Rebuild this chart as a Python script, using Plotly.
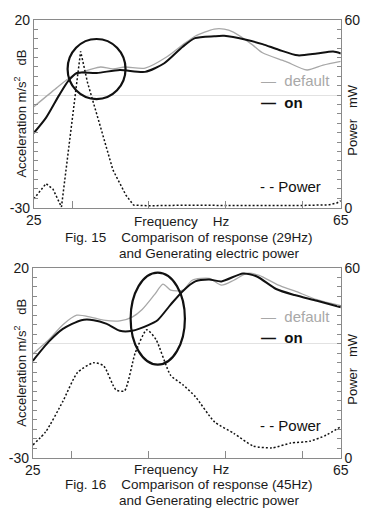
import plotly.graph_objects as go

W, H = 366, 518

# ---------------- Data: Fig. 15 ----------------
f15_on_freq = [25, 26.6, 28.3, 29.5, 30.6, 33.2, 36.2, 39.5, 42, 44.4, 46, 48.5, 49.8, 52.8, 54.8, 56.9, 59.4, 61.9, 64, 65]
f15_on_db = [-10.1, -6, 0, 3.8, 5.9, 5.9, 6.7, 6.2, 8.5, 12.9, 15.2, 15.7, 15.8, 14.7, 13.6, 12.1, 10.6, 11.1, 11.6, 11.1]
f15_def_freq = [25, 27.9, 30, 32.5, 33.7, 35.3, 36.9, 39.5, 42.4, 44.4, 46, 48.5, 49.8, 51, 53.5, 54.8, 57.8, 60.6, 62.7, 65]
f15_def_db = [-3.1, 1.8, 5.1, 6.9, 7.5, 7.0, 7.5, 7.2, 10.3, 13.4, 15.7, 17.6, 17.6, 16.8, 13.4, 11.3, 9.0, 6.7, 8.0, 9.0]
f15_pow_freq = [25, 26.6, 27.5, 28.6, 31.1, 32, 33.7, 35.3, 37, 38, 40, 45, 50, 55, 60, 63.5, 64.5, 65]
f15_pow_mw = [2.8, 7.7, 5.9, 0.2, 50, 40, 25.7, 12.1, 4, 0.8, 0.6, 0.8, 0.7, 0.6, 0.7, 0.9, 1.5, 2.2]

# ---------------- Data: Fig. 16 ----------------
f16_on_freq = [25, 27.1, 28.9, 31.3, 32.9, 34.6, 36.3, 37.9, 40, 41.2, 42.9, 44.5, 46.1, 47.9, 49.5, 52.3, 54.1, 56.6, 59, 61.9, 65]
f16_on_db = [-4.5, 0.6, 3.9, 6.2, 6.2, 5.2, 3.4, 3.4, 4.9, 6.2, 10.3, 13.9, 16.4, 16.9, 16.4, 18.5, 17.7, 14.4, 12.8, 11.3, 9.6]
f16_def_freq = [25, 27.1, 28.9, 30.7, 32.5, 34.2, 36.3, 37.9, 39.2, 40.8, 41.9, 42.9, 44.5, 45.7, 47.9, 49.5, 51.1, 52.8, 54.4, 56.9, 59, 61.9, 65]
f16_def_db = [-2.7, 1.1, 5.0, 7.5, 7.0, 6.2, 6.0, 7.0, 9.0, 12.9, 15.7, 14.1, 14.1, 16.7, 17.2, 15.4, 16.7, 18.5, 18.0, 15.4, 13.9, 11.6, 10.0]
f16_pow_freq = [25, 26.7, 28.9, 30.8, 32.9, 34.2, 35.8, 36.9, 38.3, 39.8, 41, 42.9, 44.5, 46.1, 48.6, 51.1, 53.6, 56.1, 58.5, 61, 63.1, 65]
f16_pow_mw = [4, 8.3, 17.8, 26.9, 30, 29, 21.4, 21.1, 33.1, 40.4, 37.3, 26, 23, 19.3, 11.3, 7.7, 3.7, 3.1, 4.6, 5.2, 7.1, 9.8]

x_labels = [25, 65]
x_long_ticks = [30, 40, 50, 60]
x_short_ticks = [32, 34, 36, 38, 42, 44, 46, 48, 52, 54, 56, 58, 62, 64]
db_labels = [-30, 20]
mw_labels = [0, 60]

FONT = "Liberation Sans, Arial, sans-serif"
AX = "#8a8a8a"
GREY = "#a8a8a8"
TXT = "#1a1a1a"
DOT = "2px,2px"


def px(x):
    return x / W


def py(y):
    return 1 - y / H


fig = go.Figure()

# top panel
fig.add_trace(go.Scatter(x=f15_def_freq, y=f15_def_db, mode="lines", line=dict(color=GREY, width=1.3, shape="spline", smoothing=0.7), xaxis="x", yaxis="y"))
fig.add_trace(go.Scatter(x=f15_on_freq, y=f15_on_db, mode="lines", line=dict(color="#111", width=2, shape="spline", smoothing=0.7), xaxis="x", yaxis="y"))
fig.add_trace(go.Scatter(x=f15_pow_freq, y=f15_pow_mw, mode="lines", line=dict(color="#111", width=1.5, dash=DOT), xaxis="x", yaxis="y2"))
# bottom panel
fig.add_trace(go.Scatter(x=f16_def_freq, y=f16_def_db, mode="lines", line=dict(color=GREY, width=1.3, shape="spline", smoothing=0.7), xaxis="x2", yaxis="y3"))
fig.add_trace(go.Scatter(x=f16_on_freq, y=f16_on_db, mode="lines", line=dict(color="#111", width=2, shape="spline", smoothing=0.7), xaxis="x2", yaxis="y3"))
fig.add_trace(go.Scatter(x=f16_pow_freq, y=f16_pow_mw, mode="lines", line=dict(color="#111", width=1.5, dash=DOT, shape="spline", smoothing=0.6), xaxis="x2", yaxis="y4"))


def xax(domain, anchor):
    return dict(domain=domain, range=[25, 65], anchor=anchor, showgrid=False, zeroline=False,
                showline=True, linecolor=AX, linewidth=1, mirror=True,
                tickmode="array", tickvals=x_labels, ticktext=[str(v) for v in x_labels],
                ticks="inside", ticklen=3, tickcolor=AX,
                tickfont=dict(size=14, color=TXT, family=FONT),
                minor=dict(tickmode="array", tickvals=x_long_ticks, ticks="inside", ticklen=7, tickcolor=AX))


def xshort(overlay, anchor):
    return dict(overlaying=overlay, anchor=anchor, range=[25, 65], showgrid=False, zeroline=False,
                showline=False, showticklabels=False, tickmode="array", tickvals=x_short_ticks,
                ticks="inside", ticklen=3, tickcolor=AX)


def ydb(domain, anchor):
    return dict(domain=domain, range=[-30, 20], anchor=anchor, showgrid=False,
                zeroline=True, zerolinecolor="#e2e2e2", zerolinewidth=1,
                showline=True, linecolor=AX, linewidth=1,
                tickmode="array", tickvals=db_labels, ticktext=[str(v) for v in db_labels],
                ticks="inside", ticklen=4, tickcolor=AX,
                tickfont=dict(size=14, color=TXT, family=FONT),
                minor=dict(tickmode="linear", tick0=-30, dtick=2.5, ticks="inside", ticklen=4, tickcolor=AX))


def ymw(overlay, anchor):
    return dict(range=[0, 60], overlaying=overlay, side="right", anchor=anchor, showgrid=False,
                zeroline=False, showline=True, linecolor=AX, linewidth=1,
                tickmode="array", tickvals=mw_labels, ticktext=[str(v) for v in mw_labels],
                ticks="inside", ticklen=4, tickcolor=AX,
                tickfont=dict(size=14, color=TXT, family=FONT),
                minor=dict(tickmode="linear", tick0=0, dtick=3, ticks="inside", ticklen=4, tickcolor=AX))


top_y = [py(206), py(12.5)]
bot_y = [py(464), py(268)]

fig.update_layout(
    width=W, height=H, margin=dict(l=0, r=0, t=0, b=0),
    paper_bgcolor="white", plot_bgcolor="white", showlegend=False,
    font=dict(family=FONT, color=TXT),
    xaxis=xax([px(27), px(348)], "y"),
    yaxis=ydb(top_y, "x"),
    yaxis2=ymw("y", "x"),
    xaxis2=xax([px(26), px(348)], "y3"),
    yaxis3=ydb(bot_y, "x2"),
    yaxis4=ymw("y3", "x2"),
    xaxis3=xshort("x", "y"),
    xaxis4=xshort("x2", "y3"),
)

# ellipses
fig.add_shape(type="circle", xref="x", yref="y", x0=29.4, x1=36.95, y0=-1.06, y1=14.96,
              line=dict(color="#111", width=2.2), layer="above")
fig.add_shape(type="circle", xref="x2", yref="y3", x0=37.7, x1=44.75, y0=-5.5, y1=18.7,
              line=dict(color="#111", width=2.2), layer="above")

NB = "\u00a0"


def ann(text, x, y, size=13.5, color=TXT, xanchor="left", angle=0):
    fig.add_annotation(text=text, x=px(x), y=py(y), xref="paper", yref="paper", showarrow=False,
                       xanchor=xanchor, yanchor="middle", textangle=angle,
                       font=dict(size=size, color=color, family=FONT))


for (fig_no, hz, lg) in [("15", "29Hz", 0), ("16", "45Hz", 1)]:
    if lg == 0:
        yd, yo, yp = 75, 97, 184
    else:
        yd, yo, yp = 318, 340, 431
    ann("—" + NB + NB + "default", 262, yd, size=15, color=GREY)
    ann("<b>—" + NB + NB + "on</b>", 262, yo, size=15, color="#111")
    ann("-" + NB + "-" + NB + "Power", 261, yp, size=15, color="#111")
    cy = 109 if lg == 0 else 366
    ann("Acceleration m/s<sup>2</sup>" + NB * 3 + "dB", 12.5, cy, size=13, xanchor="center", angle=-90)
    ann("Power" + NB * 3 + "mW", 360, cy + 6, size=13, xanchor="center", angle=-90)
    fy = 220 if lg == 0 else 476
    ann("Frequency" + NB * 4 + "Hz", 182, fy, size=13.5, xanchor="center")
    c1 = 237 if lg == 0 else 492
    ann("Fig. " + fig_no + NB * 4 + "Comparison of response (" + hz + ")", 58, c1, size=13.5)
    ann("and Generating electric power", 114, c1 + 16, size=13.5)

fig.write_html("out.html")
